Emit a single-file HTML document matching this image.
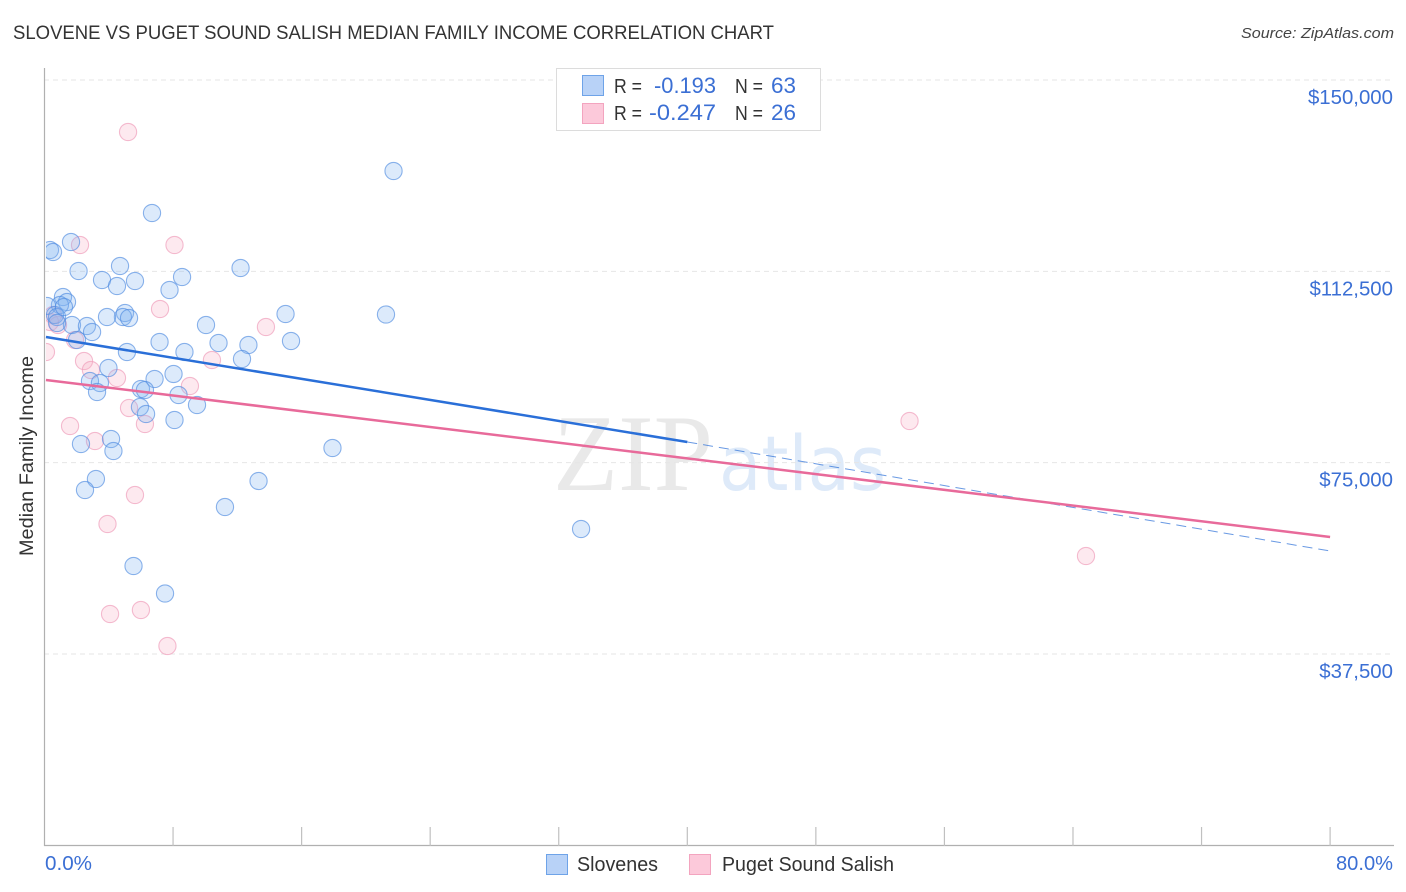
<!DOCTYPE html>
<html lang="en">
<head>
<meta charset="utf-8">
<title>Slovene vs Puget Sound Salish Median Family Income Correlation Chart</title>
<style>
  html, body { margin: 0; padding: 0; background: #fff; }
  #chart { display: block; font-family: "Liberation Sans", sans-serif; }
  #watermark-atlas { font-family: "DejaVu Sans", "Liberation Sans", sans-serif; font-weight: normal; }
</style>
</head>
<body>
<svg id="chart" width="1406" height="892" viewBox="0 0 1406 892" xmlns="http://www.w3.org/2000/svg">
  <defs>
    <clipPath id="plot-clip"><rect x="46" y="60" width="1350" height="786"></rect></clipPath>
  </defs>
  <text x="13" y="39" font-size="19" fill="#333" textLength="761" lengthAdjust="spacingAndGlyphs">SLOVENE VS PUGET SOUND SALISH MEDIAN FAMILY INCOME CORRELATION CHART</text>
  <text x="1394" y="38" font-size="15" font-style="italic" fill="#444" text-anchor="end" textLength="153" lengthAdjust="spacingAndGlyphs">Source: ZipAtlas.com</text>

  <g>
    <text x="553" y="490" style="font-family:'Liberation Serif',serif" font-size="109" fill="#e9e9e9" textLength="160" lengthAdjust="spacingAndGlyphs">ZIP</text>
    <text id="watermark-atlas" x="719" y="490" font-size="76" fill="#deeaf9" textLength="167" lengthAdjust="spacingAndGlyphs">atlas</text>
  </g>

  <g id="grid"></g>
  <g id="points" clip-path="url(#plot-clip)"></g>
  <g id="trends"></g>
  <g id="axes"></g>
  <g id="y-labels"></g>

  <text transform="translate(33,456) rotate(-90)" font-size="19" fill="#333" text-anchor="middle" textLength="200" lengthAdjust="spacingAndGlyphs">Median Family Income</text>
  <text x="45" y="870" font-size="20" fill="#3b6fd4" textLength="47" lengthAdjust="spacingAndGlyphs">0.0%</text>
  <text x="1336" y="870" font-size="20" fill="#3b6fd4" textLength="57" lengthAdjust="spacingAndGlyphs">80.0%</text>

  <g>
    <rect x="556.5" y="68.5" width="264" height="62" fill="#fff" stroke="#dcdcdc"></rect>
    <rect x="582.5" y="75.5" width="21" height="20" fill="#b8d2f7" stroke="#6ea3e8"></rect>
    <rect x="582.5" y="103.5" width="21" height="20" fill="#fcc9da" stroke="#f3a4bf"></rect>
    <g font-size="20" fill="#333">
      <text x="614" y="93" textLength="28" lengthAdjust="spacingAndGlyphs">R =</text>
      <text x="735" y="93" textLength="28" lengthAdjust="spacingAndGlyphs">N =</text>
      <text x="614" y="120" textLength="28" lengthAdjust="spacingAndGlyphs">R =</text>
      <text x="735" y="120" textLength="28" lengthAdjust="spacingAndGlyphs">N =</text>
    </g>
    <g font-size="22" fill="#3b6fd4">
      <text x="654" y="93" textLength="62" lengthAdjust="spacingAndGlyphs">-0.193</text>
      <text x="771" y="93" textLength="25" lengthAdjust="spacingAndGlyphs">63</text>
      <text x="649" y="120" textLength="67" lengthAdjust="spacingAndGlyphs">-0.247</text>
      <text x="771" y="120" textLength="25" lengthAdjust="spacingAndGlyphs">26</text>
    </g>
  </g>

  <g>
    <g>
      <rect x="546.5" y="854.5" width="21" height="20" fill="#b8d2f7" stroke="#6ea3e8"></rect>
      <text x="577" y="871" font-size="20" fill="#333" textLength="81" lengthAdjust="spacingAndGlyphs">Slovenes</text>
    </g>
    <g>
      <rect x="689.5" y="854.5" width="21" height="20" fill="#fcc9da" stroke="#f3a4bf"></rect>
      <text x="722" y="871" font-size="20" fill="#333" textLength="172" lengthAdjust="spacingAndGlyphs">Puget Sound Salish</text>
    </g>
  </g>
</svg>

<script>
const yTickValues = [150000, 112500, 75000, 37500];
const yTickLabels = ["$150,000", "$112,500", "$75,000", "$37,500"];
const xTickValues = [0, 8, 16, 24, 32, 40, 48, 56, 64, 72, 80];

const sloveneX = [21.72, 6.69, 1.65, 0.34, 0.53, 12.2, 4.7, 2.12, 8.56, 3.58, 4.51, 5.63, 7.78, 1.15, 1.4, 0.96, 0.16, 0.65, 0.78, 1.21, 15.0, 21.25, 5.01, 4.88, 5.26, 3.89, 10.05, 1.71, 2.64, 2.96, 7.16, 10.83, 12.69, 15.34, 2.02, 5.13, 8.71, 12.29, 3.98, 8.03, 6.85, 2.83, 3.45, 6.0, 6.25, 3.27, 8.34, 9.49, 5.94, 6.32, 8.09, 4.14, 2.27, 4.29, 17.92, 3.2, 13.32, 2.52, 11.23, 33.39, 5.54, 7.5, 0.78];
const sloveneY = [132164, 123932, 118248, 116680, 116288, 113152, 113544, 112564, 111388, 110800, 109624, 110604, 108840, 107468, 106488, 105900, 105704, 103940, 103548, 105508, 104136, 104038, 104332, 103548, 103352, 103548, 101980, 101980, 101784, 100608, 98648, 98452, 98060, 98844, 99040, 96688, 96688, 95316, 93552, 92376, 91396, 91004, 90612, 89436, 89240, 88848, 88260, 86300, 85908, 84536, 83360, 79636, 78656, 77284, 77872, 71796, 71404, 69640, 66308, 61996, 54744, 49354, 102372];

const salishX = [5.2, 2.21, 8.09, 7.19, 0.34, 0.84, 13.78, 1.9, 0.09, 2.46, 10.42, 2.89, 4.51, 9.05, 5.26, 6.25, 1.59, 3.14, 5.63, 3.92, 4.08, 6.0, 7.65, 53.83, 64.81, 0.53];
const salishY = [139808, 117660, 117660, 105116, 102568, 101980, 101588, 99040, 96688, 94924, 95120, 93160, 91592, 90024, 85712, 82576, 82184, 79244, 68660, 62976, 45336, 46120, 39064, 83164, 56704, 103940];

const sloveneTrendX = [0.09, 40, 80];
const sloveneTrendY = [99628, 79048, 57684];
const salishTrendX = [0.09, 80];
const salishTrendY = [91200, 60428];

const SVG_NS = "http://www.w3.org/2000/svg";
function xScale(pct) { return 44.5 + pct * 16.07; }
function yScale(val) { return 80 + (150000 - val) / 196; }
function make(tag, attrs, parent) {
  const el = document.createElementNS(SVG_NS, tag);
  for (const k in attrs) el.setAttribute(k, attrs[k]);
  parent.appendChild(el);
  return el;
}

const grid = document.getElementById("grid");
const axes = document.getElementById("axes");
const yLabels = document.getElementById("y-labels");
const points = document.getElementById("points");
const trends = document.getElementById("trends");

yTickValues.forEach(function (v, i) {
  const y = yScale(v);
  const line = make("line", { x1: 44, x2: 1394, y1: y, y2: y, stroke: "#e6e6e6", "stroke-width": 1, "stroke-dasharray": "5 4" }, grid);
  
  
  const label = make("text", { x: 1393, y: y + 24, "font-size": 20.4, fill: "#3b6fd4", "text-anchor": "end" }, yLabels);
  label.textContent = yTickLabels[i];
  
  
});

const yAxis = make("line", { x1: 44.5, x2: 44.5, y1: 68, y2: 846, stroke: "#b0b0b0", "stroke-width": 1.2 }, axes);


const xAxis = make("line", { x1: 44, x2: 1394, y1: 845.5, y2: 845.5, stroke: "#b0b0b0", "stroke-width": 1.2 }, axes);


xTickValues.forEach(function (v) {
  if (v === 0) return;
  const x = xScale(v);
  const tick = make("line", { x1: x, x2: x, y1: 827, y2: 846, stroke: "#c0c0c0", "stroke-width": 1.2 }, axes);
  
  
});

salishX.forEach(function (x, i) {
  const c = make("circle", { cx: xScale(x), cy: yScale(salishY[i]), r: 8.6, fill: "rgba(248,175,198,0.28)", stroke: "rgba(240,160,188,0.70)", "stroke-width": 1.1 }, points);
  
  
});
sloveneX.forEach(function (x, i) {
  const c = make("circle", { cx: xScale(x), cy: yScale(sloveneY[i]), r: 8.6, fill: "rgba(130,178,240,0.28)", stroke: "rgba(80,140,225,0.65)", "stroke-width": 1.1 }, points);
  
  
});

const blueDash = make("line", { x1: xScale(sloveneTrendX[1]), y1: yScale(sloveneTrendY[1]), x2: xScale(sloveneTrendX[2]), y2: yScale(sloveneTrendY[2]), stroke: "#2a6fd8", "stroke-width": 1, "stroke-dasharray": "10 6", opacity: 0.7 }, trends);


const blueLine = make("line", { x1: xScale(sloveneTrendX[0]), y1: yScale(sloveneTrendY[0]), x2: xScale(sloveneTrendX[1]), y2: yScale(sloveneTrendY[1]), stroke: "#2a6fd8", "stroke-width": 2.5 }, trends);


const pinkLine = make("line", { x1: xScale(salishTrendX[0]), y1: yScale(salishTrendY[0]), x2: xScale(salishTrendX[1]), y2: yScale(salishTrendY[1]), stroke: "#e86a9a", "stroke-width": 2.5 }, trends);


</script>
</body>
</html>
